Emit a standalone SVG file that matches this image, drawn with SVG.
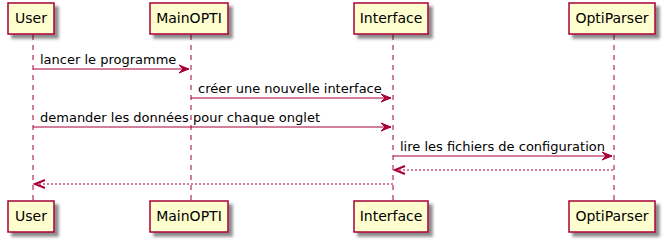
<svg xmlns="http://www.w3.org/2000/svg" width="666" height="243" viewBox="0 0 666 243">
  <defs>
    <filter id="shadow" x="-20%" y="-20%" width="160%" height="180%">
      <feGaussianBlur in="SourceAlpha" stdDeviation="1.7" result="b"/>
      <feColorMatrix in="b" type="matrix" values="0 0 0 0 0  0 0 0 0 0  0 0 0 0 0  0 0 0 0.45 0" result="c"/>
      <feOffset in="c" dx="4" dy="4" result="o"/>
      <feMerge><feMergeNode in="o"/><feMergeNode in="SourceGraphic"/></feMerge>
    </filter>
  </defs>
  <style>
    .life { stroke: #A80036; stroke-width: 1; stroke-dasharray: 5,5; fill: none; }
    .box { fill: #FEFECE; stroke: #A80036; stroke-width: 1.5; }
    .name { font-family: "DejaVu Sans", sans-serif; font-size: 14px; fill: #000; text-anchor: middle; }
    .msg { font-family: "DejaVu Sans", sans-serif; font-size: 13px; fill: #000; }
    .call { stroke: #A80036; stroke-width: 1; fill: none; }
    .ret { stroke: #A80036; stroke-width: 1; stroke-dasharray: 2,2; fill: none; }
    .head { fill: #A80036; stroke: #A80036; stroke-width: 1; }
    .open { stroke: #A80036; stroke-width: 2; fill: none; }
  </style>

  <!-- lifelines -->
  <g id="lifelines">
    <line class="life" x1="33" y1="35" x2="33" y2="201"/>
    <line class="life" x1="191" y1="35" x2="191" y2="201"/>
    <line class="life" x1="393" y1="35" x2="393" y2="201"/>
    <line class="life" x1="614" y1="35" x2="614" y2="201"/>
  </g>

  <g id="User">
    <rect class="box" filter="url(#shadow)" x="8" y="3" width="46" height="31"/>
    <text class="name" x="31" y="23">User</text>
    <rect class="box" filter="url(#shadow)" x="8" y="201" width="46" height="31"/>
    <text class="name" x="31" y="221">User</text>
  </g>

  <g id="MainOPTI">
    <rect class="box" filter="url(#shadow)" x="150" y="3" width="78" height="31"/>
    <text class="name" x="189" y="23">MainOPTI</text>
    <rect class="box" filter="url(#shadow)" x="150" y="201" width="78" height="31"/>
    <text class="name" x="189" y="221">MainOPTI</text>
  </g>

  <g id="Interface">
    <rect class="box" filter="url(#shadow)" x="354" y="3" width="74" height="31"/>
    <text class="name" x="391" y="23">Interface</text>
    <rect class="box" filter="url(#shadow)" x="354" y="201" width="74" height="31"/>
    <text class="name" x="391" y="221">Interface</text>
  </g>

  <g id="OptiParser">
    <rect class="box" filter="url(#shadow)" x="569" y="3" width="86" height="31"/>
    <text class="name" x="612" y="23">OptiParser</text>
    <rect class="box" filter="url(#shadow)" x="569" y="201" width="86" height="31"/>
    <text class="name" x="612" y="221">OptiParser</text>
  </g>

  <g id="connectors">
    <!-- User -> MainOPTI -->
    <line class="call" x1="33" y1="69" x2="189" y2="69"/>
    <polygon class="head" points="179,65 189,69 179,73 183,69"/>
    <text class="msg" x="40" y="64">lancer le programme</text>

    <!-- MainOPTI -> Interface -->
    <line class="call" x1="191" y1="98" x2="391" y2="98"/>
    <polygon class="head" points="381,94 391,98 381,102 385,98"/>
    <text class="msg" x="198" y="93">créer une nouvelle interface</text>

    <!-- User -> Interface -->
    <line class="call" x1="33" y1="127" x2="391" y2="127"/>
    <polygon class="head" points="381,123 391,127 381,131 385,127"/>
    <text class="msg" x="40" y="122">demander les données pour chaque onglet</text>

    <!-- Interface -> OptiParser -->
    <line class="call" x1="393" y1="156" x2="612" y2="156"/>
    <polygon class="head" points="602,152 612,156 602,160 606,156"/>
    <text class="msg" x="400" y="151">lire les fichiers de configuration</text>

    <!-- OptiParser -> Interface (return) -->
    <line class="ret" x1="395" y1="170" x2="614" y2="170"/>
    <polyline class="open" points="405,166 395,170 405,174"/>

    <!-- Interface -> User (return) -->
    <line class="ret" x1="35" y1="184" x2="393" y2="184"/>
    <polyline class="open" points="45,180 35,184 45,188"/>
  </g>
</svg>
